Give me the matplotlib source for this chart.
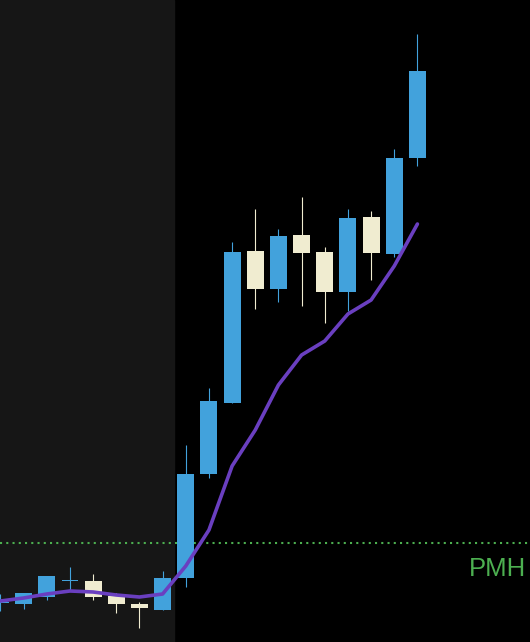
import matplotlib
matplotlib.use("Agg")
import matplotlib.pyplot as plt
from matplotlib.patches import Rectangle

# candle values (arbitrary price units)
opens  = [39, 38, 45, 61, 61, 46, 38, 32, 64, 168, 239, 391, 353, 407, 390, 350, 425, 388, 484]
closes = [39.5, 49, 66, 61.5, 45, 38, 34, 64, 168, 241, 390, 353, 406, 389, 350, 424, 389, 484, 571]
highs  = [48, 49, 66, 75, 68, 49, 40, 71, 197, 254, 400, 433, 413, 445, 395, 433, 431, 493, 608]
lows   = [31, 33, 42, 52, 42, 29, 14, 32, 55, 164, 239, 333, 340, 336, 319, 331, 362, 385, 476]
ma     = [41, 44, 48, 51, 50, 47, 45, 48, 76, 112, 176, 212, 257, 287, 301, 328, 342, 376, 418]
pmh = 99
premarket_end = 7.47

up_col = "#42a2dc"
down_col = "#f0ecd0"

fig = plt.figure(figsize=(5.30, 6.42), dpi=100)
fig.patch.set_facecolor("black")
ax = fig.add_axes([0, 0, 1, 1])
ax.set_facecolor("black")
ax.set_xlim(-0.02, 22.86)
ax.set_ylim(0, 642)
ax.axis("off")

ax.axvspan(-1, premarket_end, color="#161616", zorder=0)

ax.axhline(pmh, color="#4caf50", lw=1.5, linestyle=(0, (1, 2)), zorder=1)
ax.text(22.7, pmh - 33, "PMH", color="#4caf50", fontsize=18.5,
        family="Liberation Sans", ha="right", va="baseline")

w = 0.73
for i in range(len(opens)):
    o, c, h, l = opens[i], closes[i], highs[i], lows[i]
    col = up_col if c >= o else down_col
    ax.plot([i, i], [l, h], color=col, lw=0.8, zorder=2, solid_capstyle="butt")
    lo, hi = min(o, c), max(o, c)
    ax.add_patch(Rectangle((i - w / 2, lo), w, max(hi - lo, 1.2),
                           facecolor=col, edgecolor="none", zorder=3))

ax.plot(range(len(ma)), ma, color="#6a3fc0", lw=2.6, zorder=4,
        solid_joinstyle="round", solid_capstyle="round")

fig.savefig("out.png", dpi=100, facecolor="black")
